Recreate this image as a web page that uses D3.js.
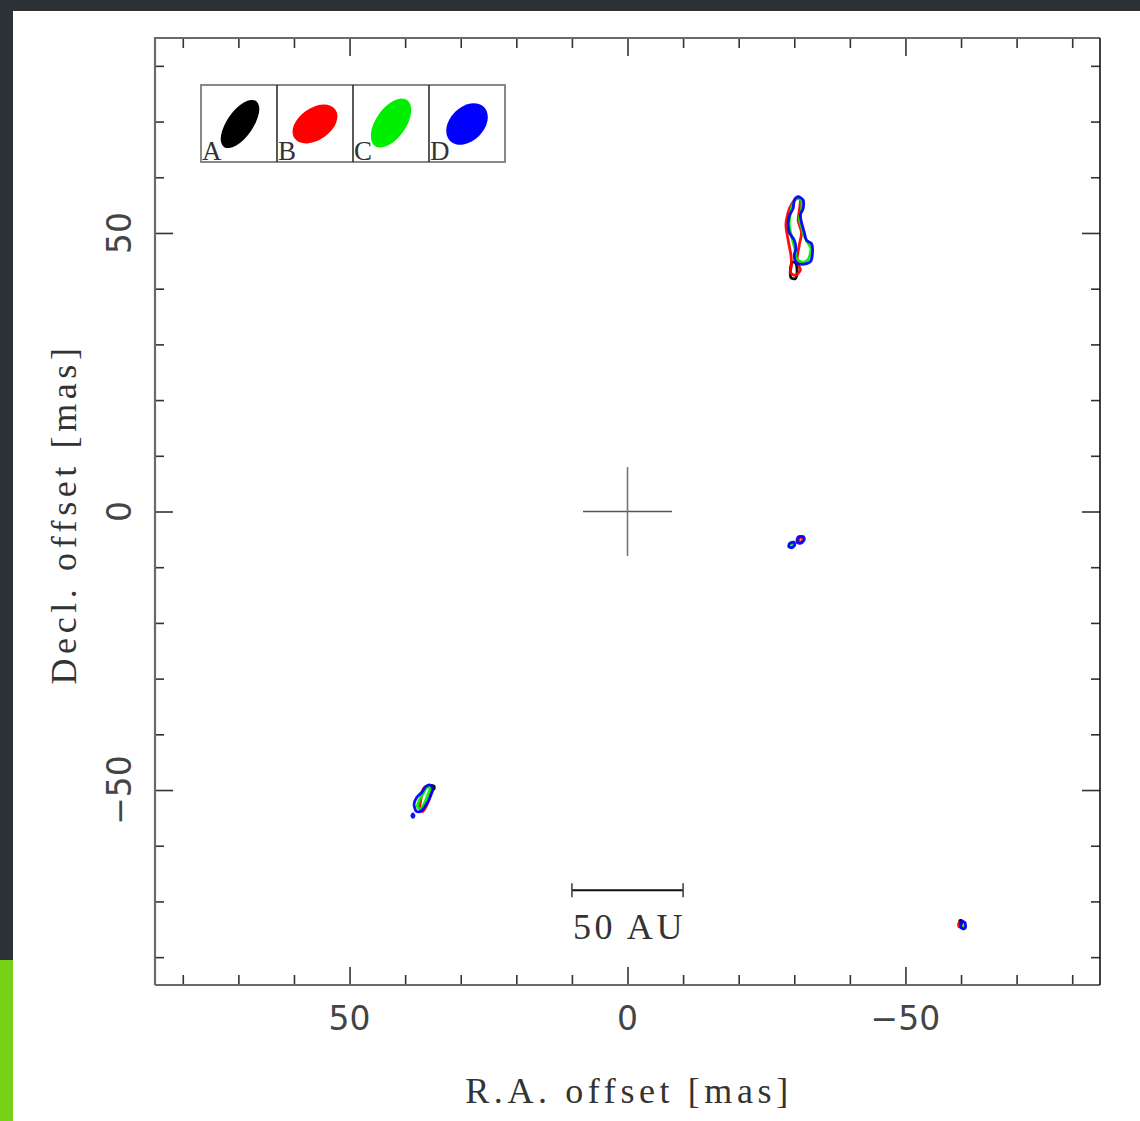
<!DOCTYPE html>
<html><head><meta charset="utf-8">
<script src="https://cdn.jsdelivr.net/npm/d3@7"></script>
<style>
html,body{margin:0;padding:0;background:#2c3135;}
svg{display:block;}
</style></head>
<body>
<script>
// ---------- data (mas) ----------
const xMajorTicks = [50, 0, -50];
const xTickLabels = ["50", "0", "\u221250"];
const yMajorTicks = [50, 0, -50];
const yTickLabels = ["50", "0", "\u221250"];
const minorTicks = [80,70,60,40,30,20,10,-10,-20,-30,-40,-60,-70,-80];
const legendLabels = ["A","B","C","D"];
const seriesColors = {A:"#000000", B:"#ff0000", C:"#00ee00", D:"#0000ff"};

// contour polygons [ra, dec]
const contourA = [
  [[-29.6,44.7],[-30.3,44.5],[-30.5,42.9],[-30.2,41.8],[-29.4,42.0],[-29.3,43.3]],
  [[35.3,-49.2],[34.8,-49.3],[34.8,-49.8],[35.3,-49.8]],
  [[-59.8,-73.4],[-60.2,-73.5],[-60.2,-73.9],[-59.8,-73.9]]
];
const contourB = [
  [[-30.2,56.0],[-31.1,56.2],[-30.9,54.0],[-30.7,52.2],[-31.3,50.1],[-30.9,47.8],[-30.5,45.4],[-30.8,44.2],[-31.1,43.3],[-30.2,42.4],[-29.3,42.9],[-29.5,44.2],[-29.4,46.0],[-28.9,48.7],[-28.5,51.4],[-28.9,53.7],[-29.5,55.1]],
  [[36.8,-49.9],[36.0,-49.3],[35.3,-49.8],[35.5,-51.2],[36.1,-52.7],[36.8,-53.8],[37.4,-53.4],[37.2,-51.9]],
  [[-31.0,-4.6],[-31.5,-4.8],[-31.4,-5.4],[-30.8,-5.4]],
  [[-59.6,-73.9],[-60.0,-74.0],[-60.0,-74.6],[-59.6,-74.5]]
];
const contourC = [
  [[-30.5,56.3],[-31.3,55.8],[-31.3,54.0],[-30.9,52.6],[-31.4,50.8],[-31.8,49.4],[-32.4,48.3],[-33.0,47.2],[-32.6,45.4],[-31.6,44.7],[-30.4,45.4],[-30.1,47.2],[-29.6,49.0],[-29.1,51.4],[-29.4,54.0],[-29.9,55.5]],
  [[37.4,-51.7],[37.8,-52.9],[37.2,-53.4],[36.5,-52.3],[35.9,-50.8],[35.5,-49.7],[36.1,-49.5],[36.8,-50.7]],
  [[-29.2,-5.8],[-29.7,-5.9],[-29.6,-6.4],[-29.1,-6.3]],
  [[-60.3,-74.4],[-60.6,-74.5],[-60.6,-74.9],[-60.3,-74.8]]
];
const contourD = [
  [[-30.7,56.5],[-31.6,55.9],[-31.6,54.4],[-31.1,53.3],[-31.3,51.9],[-31.8,50.1],[-32.2,48.7],[-33.1,48.1],[-33.3,46.9],[-33.0,45.0],[-31.8,44.4],[-30.4,44.6],[-30.0,46.0],[-30.3,47.2],[-30.0,48.7],[-29.1,50.1],[-28.9,51.9],[-29.2,53.3],[-29.8,54.4],[-30.0,55.9]],
  [[37.9,-51.3],[38.4,-52.6],[38.0,-53.8],[37.1,-53.8],[36.2,-52.6],[35.5,-51.2],[35.0,-49.8],[35.5,-49.1],[36.3,-49.4],[37.0,-50.4]],
  [[38.6,-54.3],[38.8,-54.6],[38.6,-54.9],[38.4,-54.6]],
  [[-30.7,-4.6],[-31.6,-4.5],[-31.8,-5.1],[-31.2,-5.7],[-30.5,-5.5]],
  [[-29.2,-5.7],[-29.9,-5.5],[-30.1,-6.0],[-29.6,-6.5],[-29.0,-6.3]],
  [[-60.1,-73.6],[-60.7,-73.8],[-60.8,-74.7],[-60.3,-74.9],[-59.9,-74.4]]
];
const crossArm = 8;          // mas
const scaleBar = [10, -10];  // mas, RA
const scaleBarDec = -68;
const scaleBarLabel = "50 AU";

// ---------- drawing ----------
const W = 1140, H = 1121;
const svg = d3.select("body").append("svg").attr("width", W).attr("height", H);
svg.append("rect").attr("x",0).attr("y",0).attr("width",W).attr("height",H).attr("fill","#2c3135");
svg.append("rect").attr("x",0).attr("y",960).attr("width",13).attr("height",H-960).attr("fill","#76d116");
svg.append("rect").attr("x",13).attr("y",11).attr("width",W-13).attr("height",H-11).attr("fill","#ffffff");

const L=155, R=1100, T=38, B=985;
const x = d3.scaleLinear().domain([85,-85]).range([L,R]);
const y = d3.scaleLinear().domain([-85,85]).range([B,T]);

// ticks
const tickColor = "#333";
function addAxis(axis, tr){
  const g = svg.append("g").attr("transform", tr).call(axis);
  g.select(".domain").remove();
  g.selectAll("line").attr("stroke", tickColor).attr("stroke-width",1.6);
  g.selectAll("text").remove();
}
addAxis(d3.axisBottom(x).tickValues(minorTicks).tickSize(-10), `translate(0,${B})`);
addAxis(d3.axisBottom(x).tickValues(xMajorTicks).tickSize(-18), `translate(0,${B})`);
addAxis(d3.axisTop(x).tickValues(minorTicks).tickSize(-10), `translate(0,${T})`);
addAxis(d3.axisTop(x).tickValues(xMajorTicks).tickSize(-18), `translate(0,${T})`);
addAxis(d3.axisLeft(y).tickValues(minorTicks).tickSize(-9), `translate(${L},0)`);
addAxis(d3.axisLeft(y).tickValues(yMajorTicks).tickSize(-18), `translate(${L},0)`);
addAxis(d3.axisRight(y).tickValues(minorTicks).tickSize(-9), `translate(${R},0)`);
addAxis(d3.axisRight(y).tickValues(yMajorTicks).tickSize(-18), `translate(${R},0)`);

// frame
svg.append("path").attr("d",`M${L},${B}L${L},${T}L${R},${T}`).attr("fill","none").attr("stroke","#6a6a6a").attr("stroke-width",2.2);
svg.append("path").attr("d",`M${L},${B}L${R},${B}`).attr("fill","none").attr("stroke","#6a6a6a").attr("stroke-width",2.2);
svg.append("path").attr("d",`M${R},${T}L${R},${B}`).attr("fill","none").attr("stroke","#111").attr("stroke-width",1.6);

// tick labels
const sans = "'DejaVu Sans', Verdana, sans-serif";
const serif = "'Liberation Serif', 'Times New Roman', serif";
svg.append("g").selectAll("text").data(xMajorTicks).join("text")
  .attr("x", d=>x(d)).attr("y", 1030).attr("text-anchor","middle")
  .attr("font-family", sans).attr("font-size",33).attr("fill","#444")
  .text((d,i)=>xTickLabels[i]);
svg.append("g").selectAll("text").data(yMajorTicks).join("text")
  .attr("transform", d=>`translate(131,${y(d)}) rotate(-90)`).attr("text-anchor","middle")
  .attr("font-family", sans).attr("font-size",33).attr("fill","#444")
  .text((d,i)=>yTickLabels[i]);

// axis titles
svg.append("text").attr("x",629).attr("y",1103).attr("text-anchor","middle")
  .attr("font-family",serif).attr("font-size",36).attr("letter-spacing",4.6).attr("fill","#333")
  .text("R.A. offset [mas]");
svg.append("text").attr("transform","translate(76,514) rotate(-90)").attr("text-anchor","middle")
  .attr("font-family",serif).attr("font-size",36).attr("letter-spacing",4.6).attr("fill","#333")
  .text("Decl. offset [mas]");

// cross
svg.append("line").attr("x1",x(crossArm)).attr("x2",x(-crossArm)).attr("y1",y(0)).attr("y2",y(0)).attr("stroke","#555").attr("stroke-width",1.4);
svg.append("line").attr("x1",x(0)).attr("x2",x(0)).attr("y1",y(crossArm)).attr("y2",y(-crossArm)).attr("stroke","#777").attr("stroke-width",1.6);

// scale bar
const sbY = y(scaleBarDec);
svg.append("line").attr("x1",x(scaleBar[0])).attr("x2",x(scaleBar[1])).attr("y1",sbY).attr("y2",sbY).attr("stroke","#111").attr("stroke-width",2);
scaleBar.forEach(v=>svg.append("line").attr("x1",x(v)).attr("x2",x(v)).attr("y1",sbY-7).attr("y2",sbY+7).attr("stroke","#444").attr("stroke-width",1.6));
svg.append("text").attr("x",x(0)+2).attr("y",sbY+49).attr("text-anchor","middle")
  .attr("font-family",serif).attr("font-size",36).attr("letter-spacing",3.6).attr("fill","#333").text(scaleBarLabel);

// contours
const line = d3.line().x(d=>x(d[0])).y(d=>y(d[1])).curve(d3.curveCardinalClosed.tension(0.2));
const layers = [["A",contourA],["B",contourB],["C",contourC],["D",contourD]];
layers.forEach(([k,polys])=>{
  svg.append("g").selectAll("path").data(polys).join("path")
    .attr("d", line).attr("fill","none").attr("stroke", seriesColors[k])
    .attr("stroke-width",2.8).attr("stroke-linejoin","round").attr("opacity",0.95);
});

// legend
const legX = 201, legY = 85, cellW = 76, cellH = 77;
const ellipses = [
  {cx:240, cy:124, rx:28, ry:13, a:-55},
  {cx:315, cy:124, rx:25, ry:16, a:-35},
  {cx:391, cy:123, rx:28, ry:15, a:-55},
  {cx:467, cy:124, rx:24, ry:17, a:-45}
];
const leg = svg.append("g");
leg.append("rect").attr("x",legX).attr("y",legY).attr("width",cellW*4).attr("height",cellH)
  .attr("fill","#fff").attr("stroke","#888").attr("stroke-width",2);
legendLabels.forEach((lab,i)=>{
  if(i>0) leg.append("line").attr("x1",legX+i*cellW).attr("x2",legX+i*cellW).attr("y1",legY).attr("y2",legY+cellH).attr("stroke","#222").attr("stroke-width",1.5);
  const e = ellipses[i];
  leg.append("ellipse").attr("cx",e.cx).attr("cy",e.cy).attr("rx",e.rx).attr("ry",e.ry)
    .attr("transform",`rotate(${e.a},${e.cx},${e.cy})`).attr("fill",seriesColors[lab]);
  leg.append("text").attr("x",legX+i*cellW+1).attr("y",legY+cellH-2)
    .attr("font-family",serif).attr("font-size",27).attr("fill","#333").text(lab);
});
</script>
</body></html>
